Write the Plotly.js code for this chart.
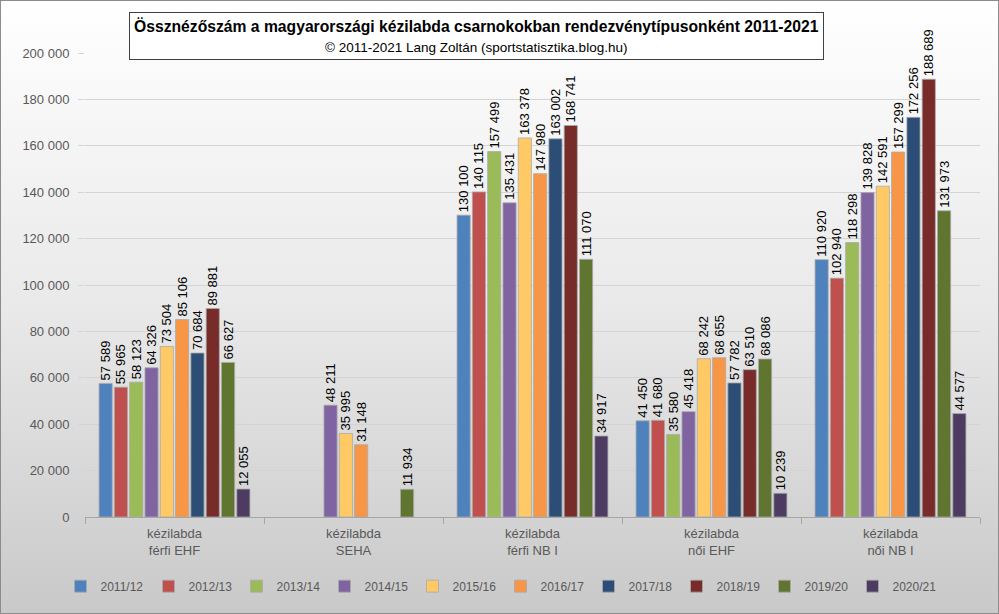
<!DOCTYPE html>
<html>
<head>
<meta charset="utf-8">
<script src="https://cdn.plot.ly/plotly-3.0.1.min.js"></script>
<style>
html,body{margin:0;padding:0;}
#chart{width:999px;height:614px;box-sizing:border-box;border:1px solid #8c8c8c;
background:linear-gradient(to bottom,#ffffff 0%,#e9e9e9 50%,#c9c9c9 100%);}
</style>
</head>
<body>
<div id="chart"></div>
<script>
const categories = ["kézilabda<br>férfi EHF","kézilabda<br>SEHA","kézilabda<br>férfi NB I","kézilabda<br>női EHF","kézilabda<br>női NB I"];
const seasons = ["2011/12","2012/13","2013/14","2014/15","2015/16","2016/17","2017/18","2018/19","2019/20","2020/21"];
const colors = ["#4F81BD","#C0504D","#9BBB59","#8064A2","#FFC966","#F79646","#2C4D75","#772C2A","#5F7530","#4D3B62"];
const s2011 = [57589, null, 130100, 41450, 110920];
const s2012 = [55965, null, 140115, 41680, 102940];
const s2013 = [58123, null, 157499, 35580, 118298];
const s2014 = [64326, 48211, 135431, 45418, 139828];
const s2015 = [73504, 35995, 163378, 68242, 142591];
const s2016 = [85106, 31148, 147980, 68655, 157299];
const s2017 = [70684, null, 163002, 57782, 172256];
const s2018 = [89881, null, 168741, 63510, 188689];
const s2019 = [66627, 11934, 111070, 68086, 131973];
const s2020 = [12055, null, 34917, 10239, 44577];
const series = [s2011,s2012,s2013,s2014,s2015,s2016,s2017,s2018,s2019,s2020];

const font = "Liberation Sans, Arial, sans-serif";
const traces = series.map((vals,i)=>({
  type:"bar", name:seasons[i], x:categories, y:vals,
  marker:{color:colors[i], line:{color:"rgba(170,170,170,0.8)", width:1}},
  texttemplate:"%{y:,}", textposition:"outside", textangle:-90, constraintext:"none",
  textfont:{family:font,size:13,color:"#000"}, cliponaxis:false,
  hoverinfo:"x+y+name"
}));

const layout = {
  width:999, height:614,
  paper_bgcolor:"rgba(0,0,0,0)", plot_bgcolor:"rgba(0,0,0,0)",
  separators:", ",
  margin:{l:84,r:20,t:52,b:98, autoexpand:false},
  barmode:"group", bargap:0.145, bargroupgap:0.14,
  font:{family:font,size:13,color:"#595959"},
  xaxis:{type:"category", tickson:"boundaries", ticks:"outside", ticklen:6, tickcolor:"#a6a6a6",
    showline:true, linecolor:"#a6a6a6", showgrid:false, ticklabelstandoff:4,
    tickfont:{family:font,size:13,color:"#595959"}},
  yaxis:{range:[0,200000], dtick:20000, tickformat:",", showgrid:true, gridcolor:"#d4d4d4",
    zeroline:false, showline:false, ticks:"outside", ticklen:6, tickcolor:"#d4d4d4", ticklabelstandoff:6,
    tickfont:{family:font,size:13,color:"#595959"}},
  legend:{orientation:"h", xref:"container", yref:"container", x:0.5, xanchor:"center", y:0.047, yanchor:"middle",
    font:{family:font,size:12,color:"#595959"}, entrywidth:43, entrywidthmode:"pixels", itemwidth:30, tracegroupgap:0},
  showlegend:true,
  annotations:[{
    xref:"paper", yref:"paper", x:0.437, y:1.0377, xanchor:"center", yanchor:"middle",
    text:"<b>Össznézőszám a magyarországi kézilabda csarnokokban rendezvénytípusonként 2011-2021</b><br><span style='font-size:13.5px'>© 2011-2021 Lang Zoltán (sportstatisztika.blog.hu)</span>",
    showarrow:false, font:{family:font,size:15.7,color:"#000"},
    bgcolor:"#ffffff", bordercolor:"#404040", borderwidth:1, borderpad:4
  }]
};
Plotly.newPlot("chart", traces, layout, {displayModeBar:false});
</script>
</body>
</html>
